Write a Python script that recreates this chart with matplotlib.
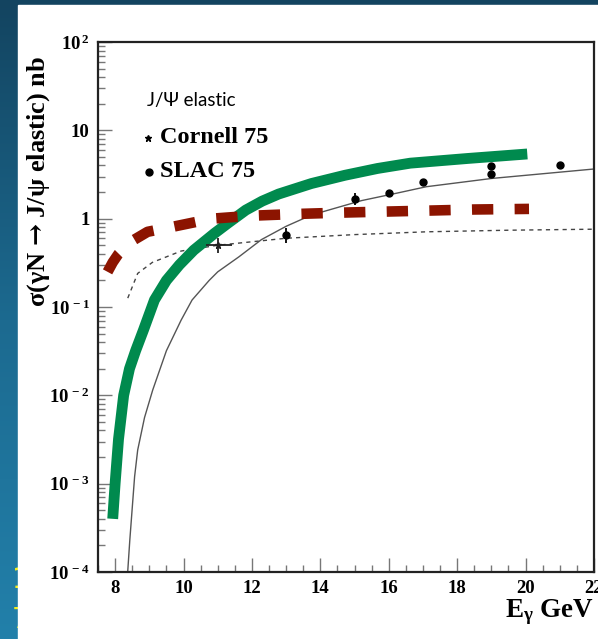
import numpy as np
import matplotlib
matplotlib.use('Agg')
import matplotlib.pyplot as plt
from matplotlib.patches import Rectangle
from matplotlib.colors import LinearSegmentedColormap
from matplotlib.ticker import LogLocator, MultipleLocator, FuncFormatter, NullFormatter

# model curves: photon energy (GeV) vs cross section (nb)
green_e = [7.93, 8.00, 8.10, 8.25, 8.42, 8.60, 8.83, 9.15, 9.50, 9.88, 10.30,
           10.90, 11.30, 11.82, 12.30, 12.78, 13.74, 14.72, 15.67, 16.63, 18.30, 20.05]
green_s = [4.0e-4, 1.0e-3, 3.2e-3, 1.0e-2, 2.0e-2, 3.2e-2, 5.5e-2, 0.12, 0.20, 0.30, 0.44,
           0.68, 0.89, 1.25, 1.58, 1.90, 2.5, 3.1, 3.7, 4.25, 4.8, 5.4]

red_e = [7.78, 7.93, 8.10, 8.43, 8.95, 9.62, 10.2, 10.83, 12.0, 13.3, 14.6, 15.8, 17.0, 18.5, 20.1]
red_s = [0.25, 0.32, 0.40, 0.54, 0.71, 0.80, 0.89, 1.00, 1.08, 1.13, 1.17, 1.20, 1.23, 1.27, 1.29]

thin_e = [8.36, 8.43, 8.57, 8.66, 8.86, 9.10, 9.50, 9.93, 10.25, 10.75, 11.0, 11.62,
          12.28, 13.0, 13.74, 15.2, 16.25, 17.1, 19.0, 22.0]
thin_s = [9e-5, 2.3e-4, 1.2e-3, 2.4e-3, 5.6e-3, 1.15e-2, 3.2e-2, 7.1e-2, 0.12, 0.20, 0.25, 0.37,
          0.58, 0.82, 1.1, 1.6, 1.95, 2.3, 2.85, 3.65]

dot_e = [8.37, 8.66, 9.09, 9.93, 11.0, 13.0, 15.0, 17.1, 19.5, 22.0]
dot_s = [0.126, 0.24, 0.32, 0.43, 0.50, 0.60, 0.66, 0.71, 0.74, 0.76]

# data
slac_e = [13, 15, 16, 17, 19, 19, 21]
slac_s = [0.65, 1.66, 1.95, 2.6, 3.95, 3.2, 4.05]
slac_lo = [0.12, 0.24, 0.20, 0.0, 0.0, 0.0, 0.0]
slac_hi = [0.13, 0.29, 0.18, 0.0, 0.0, 0.0, 0.0]

cornell_e = [11.0]
cornell_s = [0.50]
cornell_xerr = [[0.33], [0.41]]
cornell_yerr = [[0.09], [0.10]]

serif = ['Liberation Serif', 'DejaVu Serif']
plt.rcParams['mathtext.fontset'] = 'custom'
plt.rcParams['mathtext.rm'] = 'Liberation Serif:bold'
plt.rcParams['mathtext.bf'] = 'Liberation Serif:bold'
plt.rcParams['mathtext.it'] = 'Liberation Serif:bold:italic'
plt.rcParams['mathtext.sf'] = 'DejaVu Serif:bold'

W, H = 598, 639
fig = plt.figure(figsize=(W / 100, H / 100), dpi=100)

# slide background
bg = fig.add_axes([0, 0, 1, 1], zorder=-10)
grad = np.linspace(0, 1, 256).reshape(-1, 1)
slide = LinearSegmentedColormap.from_list('slide', ['#134460', '#1c6a90', '#2280aa'])
bg.imshow(grad, aspect='auto', cmap=slide, extent=[0, 1, 0, 1], origin='upper')
bg.text(12 / W, 1 - 580 / H, '1', color='#f4ec1c', fontsize=20, va='center', ha='left', zorder=2)
bg.text(12 / W, 1 - 620 / H, '7', color='#f4ec1c', fontsize=20, va='center', ha='left', zorder=2)
bg.add_patch(Rectangle((18 / W, 0), 1, (H - 5) / H, color='white', zorder=3))
bg.set_xlim(0, 1)
bg.set_ylim(0, 1)
bg.set_axis_off()

ax = fig.add_axes([98 / W, 67 / H, 496 / W, 530 / H])
ax.set_yscale('log')
ax.set_xlim(7.5, 22)
ax.set_ylim(1e-4, 1e2)

ax.plot(green_e, green_s, color='#008a4e', lw=7.8, solid_capstyle='butt',
        solid_joinstyle='round', zorder=3)
ax.plot(red_e, red_s, color='#8c1400', lw=7.6, dashes=(2.02, 2.02), dash_capstyle='butt', zorder=4)
ax.plot(thin_e, thin_s, color='#555555', lw=1.0, zorder=2)
ax.plot(dot_e, dot_s, color='#444444', lw=1.0, dashes=(3, 3), zorder=2)

ax.errorbar(slac_e, slac_s, yerr=[slac_lo, slac_hi], fmt='o', color='black',
            ms=5, elinewidth=1.3, capsize=0, zorder=5)
ax.errorbar(cornell_e, cornell_s, xerr=cornell_xerr, yerr=cornell_yerr, fmt='*',
            color='#222222', ms=5, elinewidth=1.3, capsize=0, zorder=5)

# axis styling
for s in ax.spines.values():
    s.set_linewidth(1.6)
    s.set_color('#222222')
ax.xaxis.set_major_locator(MultipleLocator(2))
ax.xaxis.set_minor_locator(MultipleLocator(0.5))
ax.yaxis.set_major_locator(LogLocator(base=10, numticks=10))
ax.yaxis.set_minor_locator(LogLocator(base=10, subs=np.arange(2, 10), numticks=10))
ax.yaxis.set_minor_formatter(NullFormatter())


def ylab(v, pos):
    e = int(round(np.log10(v)))
    if e == 0:
        return '1'
    if e == 1:
        return '10'
    return r'$\mathregular{10^{\,%d}}$' % e


ax.yaxis.set_major_formatter(FuncFormatter(ylab))
ax.tick_params(which='both', direction='in', top=False, right=False, color='#777777', width=1)
ax.tick_params(which='major', length=10, pad=6)
ax.tick_params(which='minor', length=5)
for lab in ax.get_xticklabels() + ax.get_yticklabels():
    lab.set_family(serif)
    lab.set_fontweight('bold')
    lab.set_fontsize(13.5)

# legend
ax.text(0.099, 0.889, 'J/Ψ elastic', transform=ax.transAxes, fontsize=13.5,
        family=['Lato', 'DejaVu Sans'], va='center', ha='left')
ax.plot([0.101], [0.819], marker='*', ms=5, color='black', transform=ax.transAxes, clip_on=False)
ax.text(0.125, 0.819, 'Cornell 75', transform=ax.transAxes, fontsize=17.5,
        family=serif, fontweight='bold', va='center', ha='left')
ax.plot([0.103], [0.755], marker='o', ms=5, color='black', transform=ax.transAxes, clip_on=False)
ax.text(0.125, 0.755, 'SLAC 75', transform=ax.transAxes, fontsize=17.5,
        family=serif, fontweight='bold', va='center', ha='left')

fig.text(39 / W, 1 - 181 / H, r'σ(γN $\mathsf{→}$ J/ψ elastic) nb', rotation=90, fontsize=19,
         family=serif, fontweight='bold', ha='center', va='center')
fig.text(594 / W, 1 - 612 / H, r'E$_\mathregular{γ}$ GeV', fontsize=19.5,
         family=serif, fontweight='bold', ha='right', va='center')

fig.savefig('out.png', dpi=100)
